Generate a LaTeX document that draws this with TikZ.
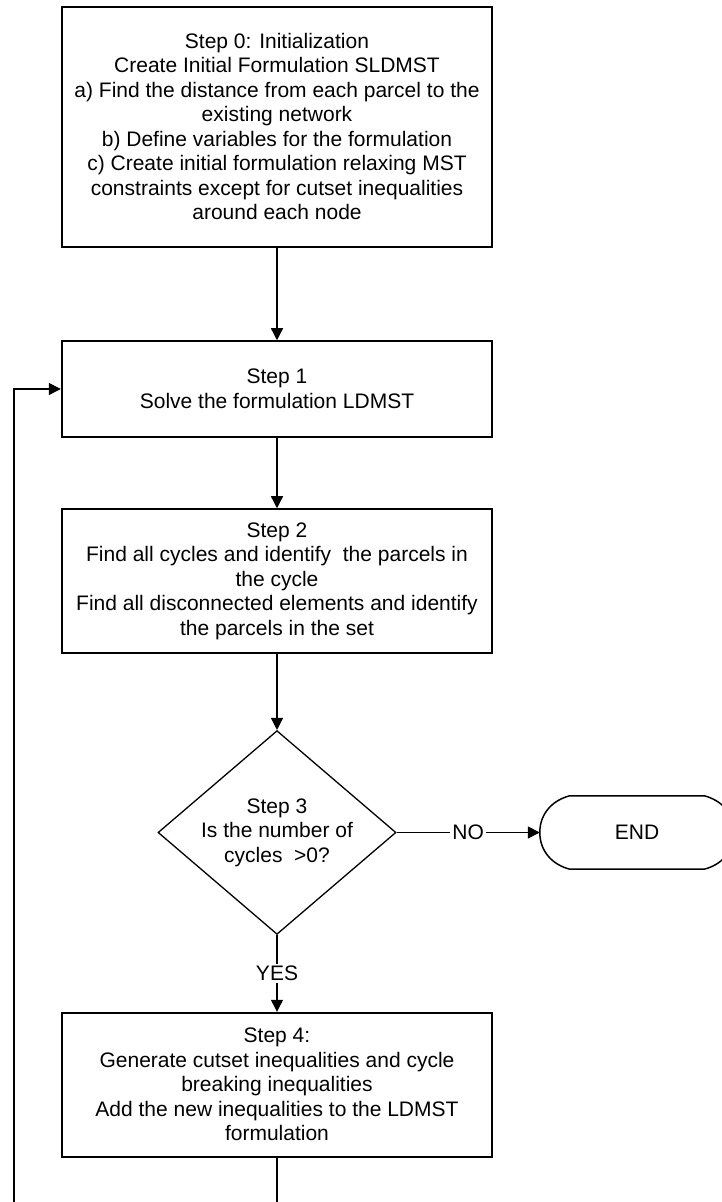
\documentclass[tikz,border=0pt]{standalone}
\usepackage{fontspec}
\setmainfont{Liberation Sans}
\usepackage{xcolor}
\usepackage{tikz}
\usetikzlibrary{arrows.meta,shapes.geometric}

\tikzset{
  stepbox/.style={draw=drawColor,line width=1.8pt,minimum width=430.6pt,inner sep=0pt,align=center,font=\fontsize{21}{24.5}\selectfont},
  decision/.style={diamond,draw=drawColor,line width=1.3pt,minimum width=238pt,minimum height=191.6pt,inner sep=-4pt,align=center,font=\fontsize{21}{24.5}\selectfont},
  terminal/.style={minimum width=194pt,minimum height=73pt,inner sep=0pt,font=\fontsize{21}{24.5}\selectfont},
  conn/.style={draw=drawColor,line width=1.3pt},
  arr/.style={conn,-{Triangle[length=12pt,width=12pt]}},
  answer/.style={fill=fillColor,inner sep=2pt,font=\fontsize{21}{24.5}\selectfont}
}

\begin{document}
\begin{tikzpicture}[x=1pt,y=1pt]
\definecolor{fillColor}{RGB}{255,255,255}
\definecolor{drawColor}{RGB}{0,0,0}
\path[use as bounding box,fill=fillColor] (0,0) rectangle (722,1202);
\clip (0,0) rectangle (722,1202);

\node[stepbox,minimum height=240pt] (s0) at (277,1075.3) {Step 0: Initialization\\Create Initial Formulation SLDMST\\a) Find the distance from each parcel to the\\existing network\\b) Define variables for the formulation\\c) Create initial formulation relaxing MST\\constraints except for cutset inequalities\\around each node};

\node[stepbox,minimum height=95.7pt] (s1) at (277,813) {Step 1\\Solve the formulation LDMST};

\node[stepbox,minimum height=143.7pt] (s2) at (277,621) {Step 2\\Find all cycles and identify~ the parcels in\\the cycle\\Find all disconnected elements and identify\\the parcels in the set};

\node[decision] (s3) at (277,369.5) {Step 3\\Is the number of\\cycles~ >0?};

\node[terminal] (end) at (637,369.5) {END};

\node[stepbox,minimum height=144pt] (s4) at (277,117.3) {Step 4:\\Generate cutset inequalities and cycle\\breaking inequalities\\Add the new inequalities to the LDMST\\formulation};

\path[draw=drawColor,line width=1.5pt,line join=round] ([xshift=30pt]end.north west) -- ([xshift=-30pt]end.north east) .. controls +(16pt,-4pt) and +(0pt,20pt) .. (end.east) .. controls +(0pt,-20pt) and +(16pt,4pt) .. ([xshift=-30pt]end.south east) -- ([xshift=30pt]end.south west) .. controls +(-16pt,4pt) and +(0pt,-20pt) .. (end.west) .. controls +(0pt,20pt) and +(-16pt,-4pt) .. ([xshift=30pt]end.north west) -- cycle;

\path[arr] (s0) -- (s1);

\path[arr] (s1) -- (s2);

\path[arr] (s2) -- (s3);

\path[arr] (s3) -- node[answer] {NO} (end);

\path[arr] (s3) -- node[answer] {YES} (s4);

\coordinate (drop) at (277,0);
\coordinate (back) at (14,0);

\path[conn] (s4) -- (drop);

\path[arr] (back) |- (s1);
\end{tikzpicture}
\end{document}
